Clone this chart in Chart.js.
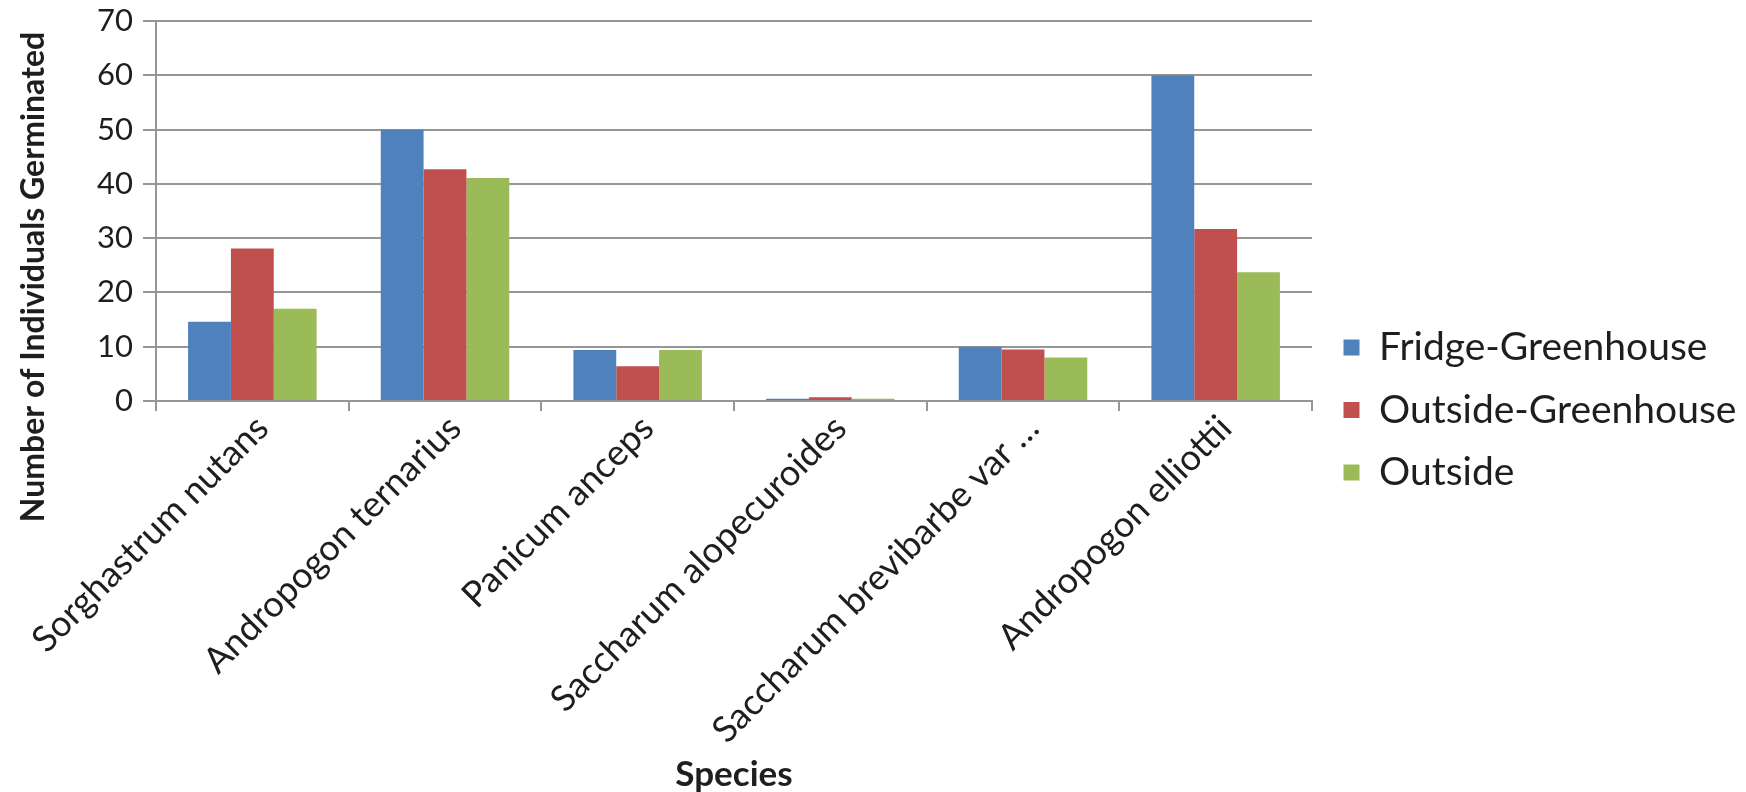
<!DOCTYPE html>
<html>
<head>
<meta charset="utf-8">
<script src="https://cdn.jsdelivr.net/npm/chart.js@4/dist/chart.umd.min.js"></script>
<style>
  html, body { margin: 0; padding: 0; background: #ffffff; }
  #wrap { width: 1746px; height: 792px; }
</style>
</head>
<body>
<div id="wrap"><canvas id="chart" width="1746" height="792"></canvas></div>
<script>
// Germination counts per species under three seed treatments
const species = [
  'Sorghastrum nutans',
  'Andropogon ternarius',
  'Panicum anceps',
  'Saccharum alopecuroides',
  'Saccharum brevibarbe var …',
  'Andropogon elliottii'
];
const fridgeGreenhouse  = [14.6, 50, 9.4, 0.4, 10, 60];
const outsideGreenhouse = [28.1, 42.7, 6.4, 0.7, 9.5, 31.7];
const outsideOnly       = [17.0, 41.1, 9.4, 0.4, 8.0, 23.7];
const seriesNames = ['Fridge-Greenhouse', 'Outside-Greenhouse', 'Outside'];
const yTicks = [0, 10, 20, 30, 40, 50, 60, 70];

const FONT = 'Lato, Carlito, Calibri, "Open Sans", sans-serif';
const TEXT = '#1e1e1e';
const GRID = '#969696';

// Vertical axis title, drawn beside the value axis
const yTitlePlugin = {
  id: 'yTitle',
  afterDraw(chart) {
    const ctx = chart.ctx;
    ctx.save();
    ctx.translate(34, 277);
    ctx.rotate(-Math.PI / 2);
    ctx.font = 'bold 32px ' + FONT;
    ctx.fillStyle = TEXT;
    ctx.textAlign = 'center';
    ctx.textBaseline = 'middle';
    ctx.fillText('Number of Individuals Germinated', 0, 0);
    ctx.restore();
  }
};

// Fixed legend width, then nudge the legend block into place
const legendPlace = {
  id: 'legendPlace',
  beforeLayout(chart) {
    const lg = chart.legend;
    if (lg && !lg._fixedWidth) {
      const fit = lg.fit.bind(lg);
      lg.fit = function () { fit(); this.width = 434; };
      lg._fixedWidth = true;
    }
  },
  afterLayout(chart) {
    const lg = chart.legend;
    if (!lg) return;
    lg.left += 8; lg.right += 8;
    lg.top += 14; lg.bottom += 14;
  }
};

new Chart(document.getElementById('chart'), {
  type: 'bar',
  data: {
    labels: species,
    datasets: [
      { label: seriesNames[0], data: fridgeGreenhouse,  backgroundColor: '#4F81BD' },
      { label: seriesNames[1], data: outsideGreenhouse, backgroundColor: '#C0504D' },
      { label: seriesNames[2], data: outsideOnly,       backgroundColor: '#9BBB59' }
    ]
  },
  options: {
    responsive: false,
    animation: false,
    devicePixelRatio: 1,
    layout: { padding: { top: 0, left: 0, right: 0, bottom: 0 } },
    datasets: {
      bar: { categoryPercentage: 0.667, barPercentage: 1.0, borderWidth: 0 }
    },
    plugins: {
      tooltip: { enabled: false },
      legend: {
        position: 'right',
        labels: {
          boxWidth: 16,
          boxHeight: 16,
          padding: 23.5,
          color: TEXT,
          font: { family: FONT, size: 39 }
        }
      }
    },
    scales: {
      x: {
        grid: {
          display: true,
          drawOnChartArea: false,
          drawTicks: true,
          tickLength: 10,
          color: GRID,
          lineWidth: 2,
          offset: true
        },
        border: { display: true, color: GRID, width: 2 },
        ticks: {
          autoSkip: false,
          minRotation: 45,
          maxRotation: 45,
          padding: -4,
          labelOffset: 10,
          color: TEXT,
          font: { family: FONT, size: 36 }
        },
        title: {
          display: true,
          text: 'Species',
          color: TEXT,
          padding: { top: 0, bottom: -4 },
          font: { family: FONT, size: 35, weight: 'bold' }
        },
        afterFit(scale) {
          scale.height = 391;
          scale.paddingLeft = 0;
          scale.paddingRight = 0;
        }
      },
      y: {
        min: 0,
        max: 70,
        afterBuildTicks(scale) {
          scale.ticks = yTicks.map(v => ({ value: v }));
        },
        grid: {
          color: GRID,
          lineWidth: 2,
          drawTicks: true,
          tickLength: 13
        },
        border: { display: true, color: GRID, width: 2 },
        ticks: {
          padding: 10,
          color: TEXT,
          font: { family: FONT, size: 31 }
        },
        afterFit(scale) {
          scale.width = 156;
          scale.paddingTop = 21;
          scale.paddingBottom = 0;
        }
      }
    }
  },
  plugins: [yTitlePlugin, legendPlace]
});
</script>
</body>
</html>
